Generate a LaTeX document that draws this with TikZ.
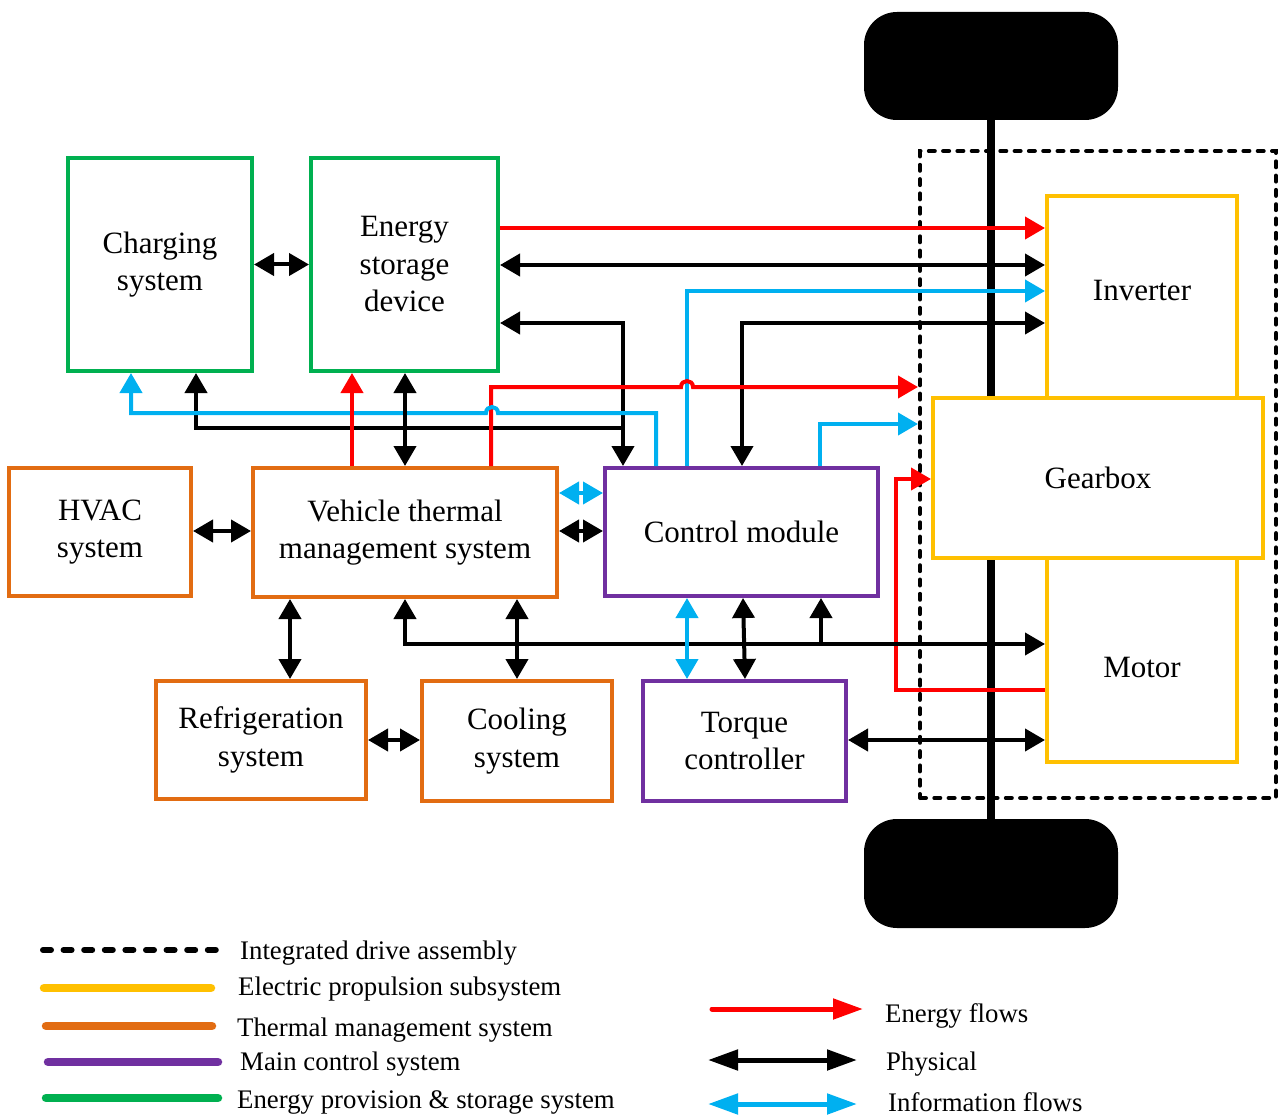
\documentclass[tikz,border=0pt]{standalone}
\usepackage{fontspec}
\setmainfont{Liberation Serif}
\usetikzlibrary{arrows.meta,calc}
\definecolor{cgreen}{RGB}{0,176,80}
\definecolor{corange}{RGB}{226,108,18}
\definecolor{cpurple}{RGB}{112,48,160}
\definecolor{cyellow}{RGB}{255,192,0}
\definecolor{ccyan}{RGB}{0,176,240}
\definecolor{cred}{RGB}{255,0,0}
\tikzset{
  Big/.tip={Triangle[length=20pt,width=22pt]},
  LBig/.tip={Triangle[length=30pt,width=20pt]},
  bx/.style={draw, line width=4pt, fill=white, inner sep=0pt, align=center,
    font=\fontsize{31}{37.5}\selectfont},
  gbox/.style={bx, draw=cgreen},
  obox/.style={bx, draw=corange},
  pbox/.style={bx, draw=cpurple},
  ybox/.style={bx, draw=cyellow},
  wheel/.style={fill=black, rounded corners=33pt, inner sep=0pt,
    minimum width=254pt, minimum height=108pt},
  idabox/.style={draw, line width=4pt, dash pattern=on 6pt off 8.3pt,
    line cap=round, inner sep=0pt},
  lbl/.style={font=\fontsize{31}{37.5}\selectfont, inner sep=0pt},
  ltxt/.style={font=\fontsize{26.8}{32}\selectfont, inner sep=0pt, anchor=base west},
  ph/.style={line width=4pt, draw=black},
  en/.style={line width=4pt, draw=cred},
  inf/.style={line width=4pt, draw=ccyan},
  leg/.style={line width=8.5pt, line cap=round},
}
\begin{document}
\begin{tikzpicture}[x=1pt,y=-1pt]
\useasboundingbox (0,0) rectangle (1280,1115);
% helper levels
\foreach \v in {228,265,291,323,387,413,424,428,479,493,531,644,690,740}
  {\coordinate (y\v) at (0,\v);}
\foreach \v in {131,196,290,352,405,491,517,623,656,687,742,743,745,820,821,896}
  {\coordinate (x\v) at (\v,0);}

% integrated drive assembly
\node[idabox, minimum width=356pt, minimum height=647pt] (ida) at (1098,474.5) {};
% wheels and axle
\node[wheel] (wt) at (991,66) {};
\node[wheel, minimum height=109pt] (wb) at (991,873.5) {};
\draw[line width=8pt] (wt.south) -- (wb.north);

% electric propulsion subsystem
\node[ybox, minimum width=190pt, minimum height=202pt] (inv) at (1142,297) {};
\node[ybox, minimum width=190pt, minimum height=204pt] (mot) at (1142,660) {};
\node[ybox, minimum width=330pt, minimum height=160pt] (gb) at (1098,478) {};
\node[lbl] (invl) at (1142,291) {Inverter};
\node[lbl] (gbl) at (1098,478) {Gearbox};
\node[lbl] (motl) at (1142,667) {Motor};

% other blocks
\node[gbox, minimum width=184pt, minimum height=213pt] (chg) at (160,264.5) {Charging\\system};
\node[gbox, minimum width=187pt, minimum height=213pt] (esd) at (404.5,264.5) {Energy\\storage\\device};
\node[obox, minimum width=182pt, minimum height=128pt] (hvac) at (100,532) {HVAC\\system};
\node[obox, minimum width=304pt, minimum height=129pt] (vtms) at (405,532.5) {Vehicle thermal\\management system};
\node[pbox, minimum width=273pt, minimum height=128pt] (ctrl) at (741.5,532) {Control module};
\node[obox, minimum width=210pt, minimum height=118pt] (refr) at (261,740) {Refrigeration\\system};
\node[obox, minimum width=190pt, minimum height=120pt] (cool) at (517,741) {Cooling\\system};
\node[pbox, minimum width=203pt, minimum height=120pt] (tq) at (744.5,741) {Torque\\controller};

% connectors
\draw[ph, Big-Big] (chg.east) -- (esd.west);
\draw[en, -Big] (esd.east |- y228) -- (inv.west |- y228);
\draw[ph, Big-Big] (esd.east |- y265) -- (inv.west |- y265);
\draw[inf, -Big] (x687 |- ctrl.north) -- (x687 |- y291) -- (inv.west |- y291);
\draw[ph, Big-Big] (inv.west |- y323) -- (x742 |- y323) -- (x742 |- ctrl.north);
\draw[ph, Big-Big] (esd.east |- y323) -- (x623 |- y323) -- (x623 |- ctrl.north);
\draw[ph, -Big] (x623 |- y428) -- (x196 |- y428) -- (x196 |- chg.south);
\draw[en, -Big] (x491 |- vtms.north) -- (x491 |- y387) -- (681,387)
  .. controls (681,379) and (693,379) .. (693,387) -- (ida.west |- y387);
\draw[inf, -Big] (x656 |- ctrl.north) -- (x656 |- y413) -- (498,413)
  .. controls (498,405) and (486,405) .. (486,413) -- (x131 |- y413) -- (x131 |- chg.south);
\draw[inf, -Big] (x820 |- ctrl.north) -- (x820 |- y424) -- (ida.west |- y424);
\draw[en, -Big] (mot.west |- y690) -- (x896 |- y690) -- (x896 |- y479) -- (gb.west |- y479);
\draw[en, -Big] (x352 |- vtms.north) -- (x352 |- esd.south);
\draw[ph, Big-Big] (x405 |- esd.south) -- (x405 |- vtms.north);
\draw[ph, Big-Big] (hvac.east |- y531) -- (vtms.west |- y531);
\draw[inf, Big-Big] (vtms.east |- y493) -- (ctrl.west |- y493);
\draw[ph, Big-Big] (vtms.east |- y531) -- (ctrl.west |- y531);
\draw[ph, Big-Big] (vtms.south) -- (vtms.south |- y644) -- (mot.west |- y644);
\draw[ph, -Big] (x821 |- y644) -- (x821 |- ctrl.south);
\draw[ph, Big-Big] (x290 |- vtms.south) -- (x290 |- refr.north);
\draw[ph, Big-Big] (x517 |- vtms.south) -- (x517 |- cool.north);
\draw[ph, Big-Big] (refr.east |- y740) -- (cool.west |- y740);
\draw[inf, Big-Big] (x687 |- ctrl.south) -- (x687 |- tq.north);
\draw[ph, Big-Big] (x743 |- ctrl.south) -- (x745 |- tq.north);
\draw[ph, Big-Big] (tq.east |- y740) -- (mot.west |- y740);

% legend
\draw[line width=6pt, line cap=round, dash pattern=on 8pt off 12.6pt] (43,950) -- (217,950);
\draw[leg, cyellow] (44,988) -- (211,988);
\draw[leg, corange] (46,1026) -- (212,1026);
\draw[leg, cpurple] (48,1062) -- (218,1062);
\draw[leg, cgreen] (46,1098) -- (218,1098);
\node[ltxt] (l1) at (240,959) {Integrated drive assembly};
\node[ltxt] (l2) at (238,995) {Electric propulsion subsystem};
\node[ltxt] (l3) at (237,1036) {Thermal management system};
\node[ltxt] (l4) at (240,1070) {Main control system};
\node[ltxt] (l5) at (237,1108) {Energy provision \& storage system};
\draw[en, line width=5pt, line cap=round, -LBig] (712,1009) -- (863,1009);
\draw[ph, line width=5pt, LBig-LBig] (708,1060) -- (857,1060);
\draw[inf, line width=5pt, LBig-LBig] (708,1104) -- (857,1104);
\node[ltxt] (r1) at (885,1022) {Energy flows};
\node[ltxt] (r2) at (886,1070) {Physical};
\node[ltxt] (r3) at (888,1111) {Information flows};
\end{tikzpicture}
\end{document}
